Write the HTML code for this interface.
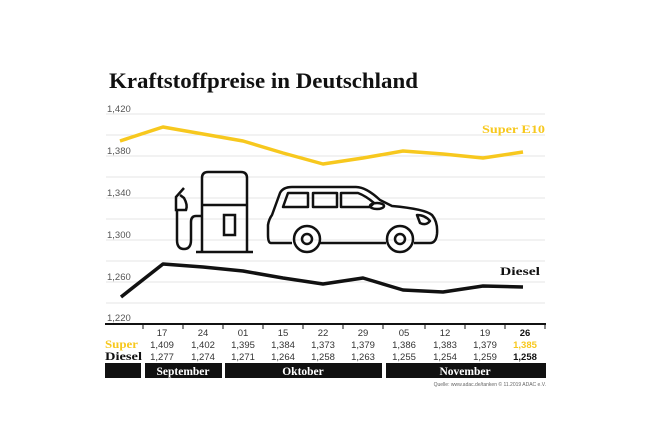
<!DOCTYPE html>
<html><head><meta charset="utf-8"><style>
body{margin:0;background:#fff}
svg{display:block}
.t{font-family:"Liberation Serif",serif;font-weight:bold}
.s{font-family:"Liberation Sans",sans-serif}
</style></head><body>
<svg width="650" height="448" viewBox="0 0 650 448">
<text x="109" y="88" class="t" font-size="22" fill="#111" textLength="309" lengthAdjust="spacingAndGlyphs">Kraftstoffpreise in Deutschland</text>
<g stroke="#e6e6e6" stroke-width="1">
<line x1="106" x2="545" y1="114" y2="114"/><line x1="106" x2="545" y1="135" y2="135"/>
<line x1="106" x2="545" y1="156" y2="156"/><line x1="106" x2="545" y1="177" y2="177"/>
<line x1="106" x2="545" y1="198" y2="198"/><line x1="106" x2="545" y1="219" y2="219"/>
<line x1="106" x2="545" y1="240" y2="240"/><line x1="106" x2="545" y1="261" y2="261"/>
<line x1="106" x2="545" y1="282" y2="282"/><line x1="106" x2="545" y1="303" y2="303"/>
</g>
<g class="s" font-size="9.5" fill="#555">
<text x="107" y="112">1,420</text><text x="107" y="154">1,380</text><text x="107" y="196">1,340</text>
<text x="107" y="238">1,300</text><text x="107" y="280">1,260</text><text x="107" y="321">1,220</text>
</g>
<line x1="105" x2="546" y1="324" y2="324" stroke="#111" stroke-width="2"/>
<g stroke="#111" stroke-width="1">
<line x1="143" x2="143" y1="324" y2="329"/><line x1="183" x2="183" y1="324" y2="329"/>
<line x1="223" x2="223" y1="324" y2="329"/><line x1="263" x2="263" y1="324" y2="329"/>
<line x1="303" x2="303" y1="324" y2="329"/><line x1="343" x2="343" y1="324" y2="329"/>
<line x1="383" x2="383" y1="324" y2="329"/><line x1="425" x2="425" y1="324" y2="329"/>
<line x1="465" x2="465" y1="324" y2="329"/><line x1="505" x2="505" y1="324" y2="329"/>
<line x1="545" x2="545" y1="324" y2="329"/>
</g>
<polyline fill="none" stroke="#f7c81e" stroke-width="3.5" stroke-linejoin="round" points="120,141 163,127 203,134 243,141 283,153 323,164 363,158 403,151 443,154 483,158 523,152"/>
<polyline fill="none" stroke="#111" stroke-width="3.5" stroke-linejoin="round" points="121,297 163,264 203,267 243,271 283,278 323,284 363,278 403,290 443,292 483,286 523,287"/>
<text x="482" y="133" class="t" font-size="12" fill="#f7c81e" textLength="63" lengthAdjust="spacingAndGlyphs">Super E10</text>
<text x="500" y="275" class="t" font-size="12" fill="#111" textLength="40" lengthAdjust="spacingAndGlyphs">Diesel</text>
<!-- pump -->
<g fill="none" stroke="#111" stroke-width="2.5">
<path d="M202,252 V178 Q202,172 208,172 H241 Q247,172 247,178 V252"/>
<line x1="196" x2="253" y1="252" y2="252"/>
<line x1="202" x2="247" y1="205" y2="205"/>
<rect x="224" y="215" width="11" height="20"/>
<path d="M202,216 H196 Q191,216 191,222 V240 Q191,249 184,249 Q177,249 177,240 V210"/>
<path d="M184,188 L176,197 V210 H186 Q188,205 184,198 L180,195"/>
</g>
<!-- car -->
<g fill="none" stroke="#111" stroke-width="2.5" stroke-linejoin="round">
<path d="M292,243 H271 Q268,243 268,235 V225 Q269,219 272,215 L280,193 Q283,187 292,187 H356 Q366,187 380,200 L392,206 Q425,209 432,215 Q438,222 437,234 Q436,243 430,243 H414 M386,243 H320"/>
<path d="M283,207 L288,193 H308 V207 Z M313,193 H337 V207 H313 Z M341,193 H358 Q366,196 374,203 L370,207 H341 Z"/>
<ellipse cx="377" cy="206" rx="7" ry="3"/>
<path d="M417,215 Q425,215 430,221 Q426,226 420,223 Z"/>
<circle cx="307" cy="239" r="13"/><circle cx="307" cy="239" r="5"/>
<circle cx="400" cy="239" r="13"/><circle cx="400" cy="239" r="5"/>
</g>
<!-- table -->
<g class="s" font-size="9.5" fill="#333" text-anchor="middle">
<text x="162" y="336">17</text><text x="203" y="336">24</text><text x="243" y="336">01</text><text x="283" y="336">15</text><text x="323" y="336">22</text><text x="363" y="336">29</text><text x="404" y="336">05</text><text x="445" y="336">12</text><text x="485" y="336">19</text>
<text x="525" y="336" font-weight="bold" fill="#111">26</text>
<text x="162" y="348">1,409</text><text x="203" y="348">1,402</text><text x="243" y="348">1,395</text><text x="283" y="348">1,384</text><text x="323" y="348">1,373</text><text x="363" y="348">1,379</text><text x="404" y="348">1,386</text><text x="445" y="348">1,383</text><text x="485" y="348">1,379</text>
<text x="525" y="348" font-weight="bold" fill="#f7c81e">1,385</text>
<text x="162" y="360">1,277</text><text x="203" y="360">1,274</text><text x="243" y="360">1,271</text><text x="283" y="360">1,264</text><text x="323" y="360">1,258</text><text x="363" y="360">1,263</text><text x="404" y="360">1,255</text><text x="445" y="360">1,254</text><text x="485" y="360">1,259</text>
<text x="525" y="360" font-weight="bold" fill="#111">1,258</text>
</g>
<text x="105" y="348" class="t" font-size="12" fill="#f7c81e" textLength="33" lengthAdjust="spacingAndGlyphs">Super</text>
<text x="105" y="360" class="t" font-size="12" fill="#111" textLength="37" lengthAdjust="spacingAndGlyphs">Diesel</text>
<rect x="105" y="363" width="36" height="15" fill="#111"/>
<rect x="145" y="363" width="77" height="15" fill="#111"/>
<rect x="225" y="363" width="157" height="15" fill="#111"/>
<rect x="386" y="363" width="160" height="15" fill="#111"/>
<g class="t" font-size="11.5" fill="#fff" text-anchor="middle">
<text x="183" y="375">September</text><text x="303" y="375">Oktober</text><text x="465" y="375">November</text>
</g>
<text x="546" y="386" text-anchor="end" class="s" font-size="5" fill="#666">Quelle: www.adac.de/tanken   © 11.2019  ADAC e.V.</text>
</svg>
</body></html>
